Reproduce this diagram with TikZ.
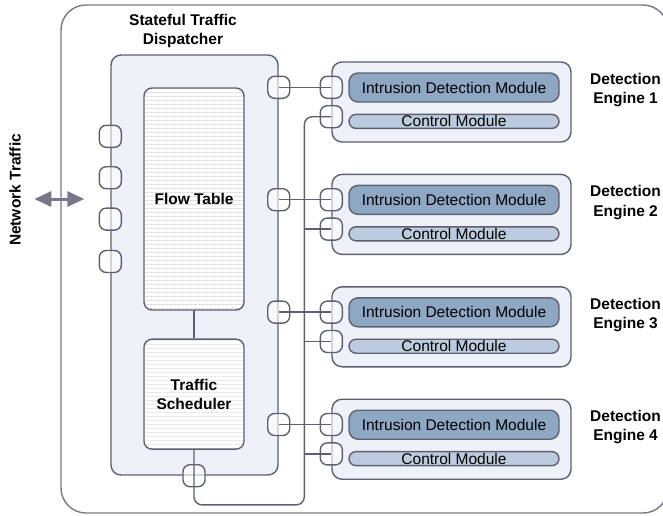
\documentclass[tikz,border=0pt]{standalone}
\usepackage{fontspec}
\setmainfont{Liberation Sans}
\usepackage{tikz}
\usetikzlibrary{positioning,arrows.meta,patterns.meta}

\definecolor{edgegray}{HTML}{5E6072}
\definecolor{boxfill}{HTML}{EEF2F8}
\definecolor{idmfill}{HTML}{8EA8C4}
\definecolor{cmfill}{HTML}{BCCCDE}

\begin{document}
\begin{tikzpicture}
    [x=1pt,y=1pt,
     frame/.style={rectangle,rounded corners=25pt,draw=edgegray!85,line width=1.4pt,
       minimum width=607pt,minimum height=508pt},
     block/.style={rectangle,rounded corners=10pt,draw=edgegray,line width=1.4pt,fill=boxfill},
     striped/.style={rectangle,rounded corners=8pt,draw=edgegray,line width=1.4pt,
       preaction={fill=white},pattern={Lines[angle=0,distance=4pt,line width=0.9pt]},
       pattern color=gray!30,minimum width=100pt,align=center,
       font=\bfseries\fontsize{15.5}{19}\selectfont},
     port/.style={rectangle,rounded corners=7pt,draw=edgegray,line width=1.4pt,
       fill=white,fill opacity=0.6,text opacity=1,minimum size=22pt,inner sep=0pt},
     idm/.style={rectangle,rounded corners=9pt,draw=edgegray,line width=1.4pt,fill=idmfill,
       minimum width=210pt,minimum height=29pt,inner sep=0pt,
       font=\fontsize{15.5}{19}\selectfont},
     ctrl/.style={rectangle,rounded corners=7pt,draw=edgegray,line width=1.4pt,fill=cmfill,
       minimum width=210pt,minimum height=14pt,inner sep=0pt,
       font=\fontsize{15.5}{19}\selectfont},
     heading/.style={align=center,font=\bfseries\fontsize{15.5}{19.5}\selectfont},
     link/.style={draw=edgegray,line width=1.4pt},
     bidir/.style={{Triangle[length=17pt,width=15pt]}-{Triangle[length=17pt,width=15pt]},
       draw=edgegray!85,line width=3pt}]

    \useasboundingbox (0,0) rectangle (663,-515);

    \node[frame] (frame) at (364.5,-259) {};

    % dispatcher with its two tables
    \node[block,minimum width=167pt,minimum height=420pt] (disp) at (194.5,-265) {};
    \node[heading] (disptitle) at (183,-31) {Stateful Traffic\\Dispatcher};
    \node[striped,minimum height=222pt] (flow) at (194,-199) {Flow Table};
    \node[striped,minimum height=110pt] (sched) [below=28pt of flow] {Traffic\\Scheduler};

    % detection engines
    \node[block,minimum width=239pt,minimum height=80pt] (eng1) at (451.5,-102) {};
    \node[block,minimum width=239pt,minimum height=80pt] (eng2) [below=31pt of eng1] {};
    \node[block,minimum width=239pt,minimum height=80pt] (eng3) [below=31pt of eng2] {};
    \node[block,minimum width=239pt,minimum height=80pt] (eng4) [below=31pt of eng3] {};

    \node[idm] (idm1) [below right=11pt and 17pt of eng1.north west] {Intrusion Detection Module};
    \node[ctrl] (cm1) [below=11pt of idm1] {Control Module};
    \node[idm] (idm2) [below right=11pt and 17pt of eng2.north west] {Intrusion Detection Module};
    \node[ctrl] (cm2) [below=11pt of idm2] {Control Module};
    \node[idm] (idm3) [below right=11pt and 17pt of eng3.north west] {Intrusion Detection Module};
    \node[ctrl] (cm3) [below=11pt of idm3] {Control Module};
    \node[idm] (idm4) [below right=11pt and 17pt of eng4.north west] {Intrusion Detection Module};
    \node[ctrl] (cm4) [below=11pt of idm4] {Control Module};

    \node[heading] (lab1) [right=15pt of eng1,yshift=12pt] {Detection\\Engine 1};
    \node[heading] (lab2) [right=15pt of eng2,yshift=12pt] {Detection\\Engine 2};
    \node[heading] (lab3) [right=15pt of eng3,yshift=12pt] {Detection\\Engine 3};
    \node[heading] (lab4) [right=15pt of eng4,yshift=12pt] {Detection\\Engine 4};

    % ports on the engines
    \node[port] (ea1) at ([yshift=-26pt]eng1.north west) {};
    \node[port] (eb1) [below=6pt of ea1] {};
    \node[port] (ea2) at ([yshift=-26pt]eng2.north west) {};
    \node[port] (eb2) [below=6pt of ea2] {};
    \node[port] (ea3) at ([yshift=-26pt]eng3.north west) {};
    \node[port] (eb3) [below=6pt of ea3] {};
    \node[port] (ea4) at ([yshift=-26pt]eng4.north west) {};
    \node[port] (eb4) [below=6pt of ea4] {};

    % ports on the dispatcher
    \node[port] (in1) at ([yshift=-82pt]disp.north west) {};
    \node[port] (in2) [below=18pt of in1] {};
    \node[port] (in3) [below=18pt of in2] {};
    \node[port] (in4) [below=19pt of in3] {};
    \node[port] (out1) at (disp.east |- ea1) {};
    \node[port] (out2) at (disp.east |- ea2) {};
    \node[port] (out3) at (disp.east |- ea3) {};
    \node[port] (out4) at (disp.east |- ea4) {};
    \node[port] (ctl) at (disp.south -| sched) {};

    \node[heading,rotate=90] (nettraffic) at (15,-190) {Network Traffic};
    \coordinate (net) at (frame.west |- flow);
    \coordinate (netl) at ([xshift=-26pt]net);
    \coordinate (netr) at ([xshift=24pt]net);
    \coordinate (bus) at ([xshift=-27pt]eb1.center);

    % connections
    \draw[bidir] (netl) -- (netr);
    \draw[link] (flow.south) -- (sched.north);
    \draw[link] (out1.center) -- (ea1.center);
    \draw[link] (out2.center) -- (ea2.center);
    \draw[link] (out3.center) -- (ea3.center);
    \draw[link] (out4.center) -- (ea4.center);
    \draw[link,rounded corners=8pt] (sched.south) -- ++(0,-55pt) -| (bus) -- (eb1.center);
    \draw[link] (bus |- eb2) -- (eb2.center);
    \draw[link] (bus |- eb3) -- (eb3.center);
    \draw[link] (bus |- eb4) -- (eb4.center);
\end{tikzpicture}
\end{document}
